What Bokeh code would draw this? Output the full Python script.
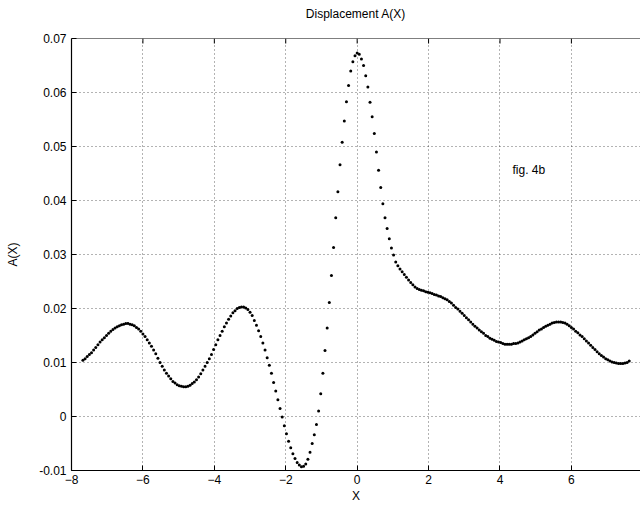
from bokeh.plotting import figure
from bokeh.layouts import column
from bokeh.models import FixedTicker, CustomJSTickFormatter, Label, Range1d, Span, Div
from bokeh.embed import file_html
from bokeh.resources import INLINE

# ---- data ----
x_start = -7.68
x_step = 0.06
a_values = [
    0.0104, 0.0107, 0.0111, 0.0115, 0.0118, 0.0123, 0.0128, 0.0133, 0.0138, 0.0142,
    0.0146, 0.0150, 0.0154, 0.0158, 0.0161, 0.0164, 0.0166, 0.0168, 0.0170, 0.0171,
    0.0172, 0.0172, 0.0171, 0.0170, 0.0168, 0.0165, 0.0162, 0.0158, 0.0153, 0.0148,
    0.0142, 0.0136, 0.0130, 0.0123, 0.0116, 0.0108, 0.0100, 0.0093, 0.0086, 0.0080,
    0.0075, 0.0070, 0.0065, 0.0062, 0.0059, 0.0057, 0.0056, 0.0055, 0.0055, 0.0056,
    0.0058, 0.0061, 0.0064, 0.0068, 0.0073, 0.0079, 0.0086, 0.0093, 0.0100, 0.0107,
    0.0115, 0.0124, 0.0133, 0.0142, 0.0150, 0.0158, 0.0166, 0.0173, 0.0180, 0.0186,
    0.0192, 0.0196, 0.0200, 0.0202, 0.0203, 0.0203, 0.0201, 0.0198, 0.0193, 0.0187,
    0.0178, 0.0169, 0.0159, 0.0148, 0.0136, 0.0123, 0.0109, 0.0095, 0.0080, 0.0063,
    0.0047, 0.0031, 0.0015, -0.0001, -0.0017, -0.0032, -0.0046, -0.0058, -0.0069, -0.0078,
    -0.0085, -0.0090, -0.0093, -0.0092, -0.0088, -0.0079, -0.0066, -0.0050, -0.0034, -0.0015,
    0.0010, 0.0042, 0.0080, 0.0122, 0.0164, 0.0211, 0.0261, 0.0313, 0.0368, 0.0416,
    0.0466, 0.0508, 0.0547, 0.0583, 0.0613, 0.0640, 0.0657, 0.0668, 0.0673, 0.0671,
    0.0662, 0.0650, 0.0631, 0.0610, 0.0582, 0.0555, 0.0524, 0.0490, 0.0456, 0.0424,
    0.0394, 0.0368, 0.0348, 0.0329, 0.0312, 0.0299, 0.0286, 0.0279, 0.0273, 0.0268,
    0.0263, 0.0258, 0.0253, 0.0248, 0.0244, 0.0240, 0.0237, 0.0235, 0.0234, 0.0233,
    0.0231, 0.0230, 0.0229, 0.0228, 0.0226, 0.0225, 0.0223, 0.0222, 0.0220, 0.0218,
    0.0216, 0.0213, 0.0210, 0.0206, 0.0202, 0.0199, 0.0195, 0.0191, 0.0187, 0.0183,
    0.0179, 0.0175, 0.0171, 0.0167, 0.0164, 0.0160, 0.0157, 0.0154, 0.0150, 0.0148,
    0.0145, 0.0143, 0.0141, 0.0139, 0.0138, 0.0137, 0.0135, 0.0134, 0.0134, 0.0134,
    0.0134, 0.0135, 0.0135, 0.0136, 0.0138, 0.0140, 0.0142, 0.0144, 0.0146, 0.0148,
    0.0151, 0.0154, 0.0157, 0.0160, 0.0162, 0.0165, 0.0167, 0.0169, 0.0171, 0.0173,
    0.0174, 0.0175, 0.0175, 0.0175, 0.0174, 0.0173, 0.0171, 0.0168, 0.0165, 0.0162,
    0.0158, 0.0155, 0.0151, 0.0148, 0.0144, 0.0140, 0.0136, 0.0132, 0.0128, 0.0124,
    0.0120, 0.0116, 0.0113, 0.0110, 0.0107, 0.0105, 0.0103, 0.0101, 0.0100, 0.0099,
    0.0098, 0.0098, 0.0098, 0.0099, 0.0100, 0.0103,
]
x_values = [round(x_start + i * x_step, 4) for i in range(len(a_values))]

x_ticks = [-8, -6, -4, -2, 0, 2, 4, 6, 8]
y_ticks = [-0.01, 0.0, 0.01, 0.02, 0.03, 0.04, 0.05, 0.06, 0.07]

title_text = "Displacement A(X)"
x_label = "X"
y_label = "A(X)"
note_text = "fig. 4b"
note_x, note_y = 4.35, 0.0456

FONT = "Liberation Sans"
X_MIN, X_MAX = -8, 7.935
Y_MIN, Y_MAX = -0.01, 0.07

title_div = Div(
    text=title_text, width=569, height=17, margin=(7, 0, 0, 71),
    styles={"font-family": FONT, "font-size": "12px", "line-height": "14px",
            "text-align": "center", "color": "black", "width": "569px"},
)

p = figure(
    width=640, height=482,
    x_range=Range1d(X_MIN, X_MAX), y_range=Range1d(Y_MIN, Y_MAX),
    output_backend="svg", toolbar_location=None,
    min_border_left=71, min_border_right=0, min_border_top=14, min_border_bottom=36,
    background_fill_color="white", border_fill_color="white",
    margin=(0, 0, 0, 0),
)
p.outline_line_color = None

yfmt = CustomJSTickFormatter(code="""
if (Math.abs(tick) < 1e-9) { return '0'; }
return tick.toFixed(2);
""")

for ax in p.xaxis:
    ax.ticker = FixedTicker(ticks=x_ticks)
    ax.axis_label = x_label
for ax in p.yaxis:
    ax.ticker = FixedTicker(ticks=y_ticks)
    ax.formatter = yfmt
    ax.axis_label = y_label

for ax in list(p.xaxis) + list(p.yaxis):
    ax.major_tick_in = 5
    ax.major_tick_out = 0
    ax.minor_tick_in = 0
    ax.minor_tick_out = 0
    ax.axis_line_color = "black"
    ax.axis_line_width = 1.2
    ax.major_tick_line_color = "black"
    ax.major_label_text_font = FONT
    ax.major_label_text_font_size = "12px"
    ax.major_label_text_color = "black"
    ax.axis_label_text_font = FONT
    ax.axis_label_text_font_size = "12px"
    ax.axis_label_text_font_style = "normal"
    ax.axis_label_text_color = "black"

p.xaxis.major_label_standoff = 4
p.xaxis.axis_label_standoff = 2
p.yaxis.major_label_standoff = 5
p.yaxis.axis_label_standoff = 16

# top frame line with inward ticks (MATLAB-style box)
p.add_layout(Span(location=Y_MAX, dimension="width", line_color="black", line_width=1.2))
tick_len = (Y_MAX - Y_MIN) * 5 / 432
top_ticks = [t for t in x_ticks if X_MIN < t < X_MAX]
p.segment(x0=top_ticks, y0=[Y_MAX] * len(top_ticks), x1=top_ticks,
          y1=[Y_MAX - tick_len] * len(top_ticks), line_color="black", line_width=1)

p.xgrid.ticker = FixedTicker(ticks=x_ticks)
p.ygrid.ticker = FixedTicker(ticks=y_ticks)
for g in (p.xgrid, p.ygrid):
    g.grid_line_color = "black"
    g.grid_line_alpha = 0.6
    g.grid_line_dash = "1 3"
    g.grid_line_width = 1

p.scatter(x_values, a_values, marker="circle", size=3, color="black", line_width=0)

p.add_layout(Label(x=note_x, y=note_y, text=note_text, text_font=FONT,
                   text_font_size="12px", text_baseline="middle", text_color="black"))

layout = column(title_div, p, spacing=0, margin=(0, 0, 0, 0))
open("out.html", "w").write(file_html(layout, INLINE))
